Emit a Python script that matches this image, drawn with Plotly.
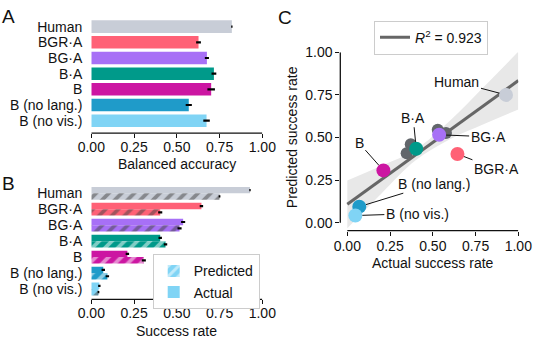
import plotly.graph_objects as go

W, H = 542, 349

categories = ["Human", "BGR·A", "BG·A", "B·A", "B", "B (no lang.)", "B (no vis.)"]
colors = ["#c8cdd7", "#ff6176", "#a770f6", "#009a8a", "#cc16a2", "#1f9bc9", "#80d4f5"]

balanced_accuracy = [0.822, 0.627, 0.676, 0.717, 0.701, 0.570, 0.674]
balanced_accuracy_err = [0.004, 0.014, 0.012, 0.014, 0.022, 0.018, 0.019]

actual_rate = [0.928, 0.644, 0.537, 0.403, 0.211, 0.070, 0.047]
actual_err = [0.004, 0.010, 0.012, 0.010, 0.010, 0.010, 0.007]
predicted_rate = [0.750, 0.403, 0.516, 0.434, 0.307, 0.094, 0.042]
predicted_err = [0.005, 0.012, 0.012, 0.010, 0.012, 0.010, 0.005]

# other runs drawn in grey behind the coloured points
other_actual = [0.371, 0.347, 0.529, 0.577]
other_predicted = [0.461, 0.408, 0.545, 0.526]

# fitted line and confidence band
fit_x = [0.0, 1.0]
fit_y = [0.108, 0.834]
band_x = [0.0, 0.2, 0.4, 0.6, 0.8, 1.0]
band_lo = [-0.032, 0.172, 0.366, 0.490, 0.579, 0.664]
band_hi = [0.248, 0.334, 0.430, 0.598, 0.799, 1.004]
r_squared = 0.923

# label offsets (px) for the scatter annotations
label_dx = [-49, 39, 49, -3, -24, 75, 62]
label_dy = [-13, 15, 2, -31, -27, -23, -2]

positions = list(range(len(categories)))
FONT = "Liberation Sans, Arial, sans-serif"
INK = "#111111"


def px(x):
    return x / W


def py(y):
    return 1 - y / H


fig = go.Figure()

# A: balanced accuracy
fig.add_trace(
    go.Bar(
        x=balanced_accuracy,
        y=positions,
        orientation="h",
        width=0.8,
        marker=dict(color=colors, line=dict(width=0)),
        error_x=dict(type="data", array=balanced_accuracy_err, color="black", thickness=2.2, width=0),
        xaxis="x",
        yaxis="y",
        showlegend=False,
    )
)

# B: success rate, actual on top, predicted (hatched) below
hatch = dict(shape="/", fgcolor="white", fillmode="overlay", size=9, solidity=0.42)
fig.add_trace(
    go.Bar(
        x=actual_rate,
        y=positions,
        orientation="h",
        width=0.4,
        offset=-0.4,
        marker=dict(color=colors, line=dict(width=0)),
        error_x=dict(type="data", array=actual_err, color="black", thickness=2.2, width=0),
        xaxis="x2",
        yaxis="y2",
        showlegend=False,
    )
)
fig.add_trace(
    go.Bar(
        x=predicted_rate,
        y=positions,
        orientation="h",
        width=0.4,
        offset=0.0,
        marker=dict(color=colors, line=dict(width=0), pattern=hatch),
        error_x=dict(type="data", array=predicted_err, color="black", thickness=2.2, width=0),
        xaxis="x2",
        yaxis="y2",
        showlegend=False,
    )
)
for name, pattern in (("Predicted", hatch), ("Actual", dict(shape=""))):
    fig.add_trace(
        go.Bar(
            x=[None],
            y=[None],
            orientation="h",
            name=name,
            marker=dict(color=colors[-1], line=dict(width=0), pattern=pattern),
            xaxis="x2",
            yaxis="y2",
            legend="legend",
        )
    )

# C: predicted vs actual
fig.add_trace(
    go.Scatter(
        x=band_x, y=band_lo, mode="lines", line=dict(width=0, shape="spline"),
        xaxis="x3", yaxis="y3", showlegend=False, hoverinfo="skip",
    )
)
fig.add_trace(
    go.Scatter(
        x=band_x, y=band_hi, mode="lines", line=dict(width=0, shape="spline"),
        fill="tonexty", fillcolor="#e8e8e8",
        xaxis="x3", yaxis="y3", showlegend=False, hoverinfo="skip",
    )
)
fig.add_trace(
    go.Scatter(
        x=other_actual, y=other_predicted, mode="markers",
        marker=dict(color="#62666b", size=12),
        xaxis="x3", yaxis="y3", showlegend=False,
    )
)
fig.add_trace(
    go.Scatter(
        x=fit_x, y=fit_y, mode="lines", line=dict(color="#666666", width=3),
        name=f"<i>R</i><sup>2</sup> = {r_squared:.3f}",
        xaxis="x3", yaxis="y3", legend="legend2",
    )
)
fig.add_trace(
    go.Scatter(
        x=actual_rate, y=predicted_rate, mode="markers",
        marker=dict(color=colors, size=14),
        xaxis="x3", yaxis="y3", showlegend=False,
    )
)

tick_style = dict(
    ticks="outside", ticklen=4, tickwidth=1.2, tickcolor=INK,
    showgrid=False, zeroline=False, showline=False, automargin=False,
    tickfont=dict(size=14, color=INK),
)
cat_style = dict(
    tickvals=positions, ticktext=categories, ticks="", showgrid=False,
    zeroline=False, showline=False, automargin=False, ticklabelstandoff=8,
    tickfont=dict(size=14, color=INK),
)
rate_ticks = [0, 0.25, 0.5, 0.75, 1.0]

fig.update_layout(
    width=W,
    height=H,
    autosize=False,
    margin=dict(l=0, r=0, t=0, b=0, pad=0, autoexpand=False),
    paper_bgcolor="white",
    plot_bgcolor="white",
    font=dict(family=FONT, size=14, color=INK),
    barmode="overlay",
    xaxis=dict(domain=[px(91.3), px(262.3)], range=[0, 1], anchor="y",
               tickvals=rate_ticks, tickformat=".2f", ticklabelstandoff=-3, **tick_style),
    yaxis=dict(domain=[py(133.2), py(18.8)], range=[6.8, -0.5], anchor="x", **cat_style),
    xaxis2=dict(domain=[px(91.3), px(262.3)], range=[0, 1], anchor="y2",
                tickvals=rate_ticks, tickformat=".2f", ticklabelstandoff=-3, **tick_style),
    yaxis2=dict(domain=[py(299.3), py(185.3)], range=[6.646, -0.5], anchor="x2", **cat_style),
    xaxis3=dict(domain=[px(340.3), px(518.3)], range=[-0.041, 1.0], anchor="y3",
                tickvals=rate_ticks, tickformat=".2f", ticklabelstandoff=-2, **tick_style),
    yaxis3=dict(domain=[py(230.7), py(52.3)], range=[-0.047, 1.0], anchor="x3",
                tickvals=rate_ticks, tickformat=".2f", **tick_style),
    legend=dict(
        x=px(152.7), y=py(254.3), xanchor="left", yanchor="top",
        bordercolor="#cccccc", borderwidth=1, bgcolor="white",
        font=dict(size=14, color=INK), tracegroupgap=0, traceorder="normal",
    ),
    legend2=dict(
        x=px(374), y=py(20.7), xanchor="left", yanchor="top",
        bordercolor="#cccccc", borderwidth=1, bgcolor="white",
        font=dict(size=14, color=INK),
    ),
)

# trimmed spines from 0 to 1
spine = dict(type="line", line=dict(color=INK, width=1.3))
for xa, ya in (("x", "y"), ("x2", "y2"), ("x3", "y3")):
    fig.add_shape(xref=xa, yref=f"{ya} domain", x0=0, x1=1, y0=0, y1=0, **spine)
fig.add_shape(xref="x3 domain", yref="y3", x0=0, x1=0, y0=0, y1=1, **spine)

# axis titles and panel letters
for text, x, y, angle in (
    ("Balanced accuracy", 176.8, 163.5, 0),
    ("Success rate", 176.8, 330.7, 0),
    ("Actual success rate", 432.8, 263.3, 0),
    ("Predicted success rate", 291.7, 137.5, -90),
):
    fig.add_annotation(text=text, x=px(x), y=py(y), xref="paper", yref="paper",
                       xanchor="center", yanchor="middle",
                       showarrow=False, textangle=angle, font=dict(size=14, color=INK))
for letter, x, y in (("A", 8.3, 16.3), ("B", 8.3, 184), ("C", 285.3, 17.5)):
    fig.add_annotation(text=letter, x=px(x), y=py(y), xref="paper", yref="paper",
                       xanchor="center", yanchor="middle",
                       showarrow=False, font=dict(size=19, color=INK))

# scatter labels with leader lines
for name, xv, yv, dx, dy in zip(categories, actual_rate, predicted_rate, label_dx, label_dy):
    fig.add_annotation(
        text=name, x=xv, y=yv, xref="x3", yref="y3", ax=dx, ay=dy,
        showarrow=True, arrowhead=0, arrowwidth=1, arrowcolor=INK, standoff=7,
        font=dict(size=14, color=INK),
    )

# the page's default body margin would push the fixed-size figure off-frame
fig.write_html(
    "out.html",
    config={"displayModeBar": False},
    post_script="document.body.style.margin = '0';",
)
